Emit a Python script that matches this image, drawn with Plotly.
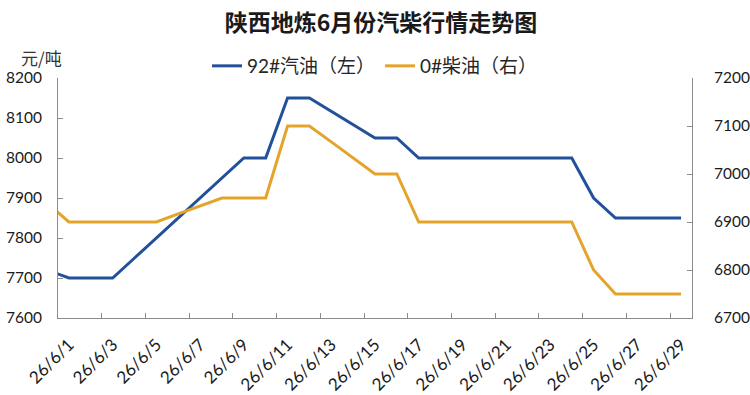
import plotly.graph_objects as go

# Dates (first point is the day before the visible range; it is clipped by the axis)
dates = ["2026-05-31"] + [f"2026-06-{d:02d}" for d in range(1, 30)]

gasoline_92 = [7720, 7700, 7700, 7700, 7750, 7800, 7850, 7900, 7950, 8000,
               8000, 8150, 8150, 8117, 8083, 8050, 8050, 8000, 8000, 8000,
               8000, 8000, 8000, 8000, 8000, 7900, 7850, 7850, 7850, 7850]
diesel_0 = [6940, 6900, 6900, 6900, 6900, 6900, 6917, 6933, 6950, 6950,
            6950, 7100, 7100, 7067, 7033, 7000, 7000, 6900, 6900, 6900,
            6900, 6900, 6900, 6900, 6900, 6800, 6750, 6750, 6750, 6750]

label_dates = [f"2026-06-{d:02d}" for d in range(1, 30, 2)]
label_text = [f"26/6/{d}" for d in range(1, 30, 2)]
tick_marks = [f"2026-06-{d:02d} 12:00" for d in range(2, 29, 2)]

name_gas = "92#汽油（左）"
name_diesel = "0#柴油（右）"
title_text = "陕西地炼6月份汽柴行情走势图"
unit_text = "元/吨"

BLUE = "#22509A"
ORANGE = "#E4A42C"
AXIS = "#8C8C8C"
FONT = "Lato, 'Noto Sans CJK SC', sans-serif"
CJK = "'Noto Sans CJK SC', sans-serif"

fig = go.Figure()
fig.add_trace(go.Scatter(x=dates, y=gasoline_92, name=name_gas, mode="lines",
                         line=dict(color=BLUE, width=3), yaxis="y"))
fig.add_trace(go.Scatter(x=dates, y=diesel_0, name=name_diesel, mode="lines",
                         line=dict(color=ORANGE, width=3), yaxis="y2"))

fig.update_layout(
    width=750, height=395,
    margin=dict(l=58, r=58, t=78, b=77, autoexpand=False),
    paper_bgcolor="white", plot_bgcolor="white",
    font=dict(family=FONT, size=16, color="#1a1a1a"),
    title=dict(text=f"<b>{title_text}</b>", x=0.508, xanchor="center",
               y=1 - 23 / 395, yanchor="middle",
               font=dict(family=CJK, size=23, color="#1a1a1a")),
    showlegend=True,
    legend=dict(orientation="h", xref="container", yref="container",
                x=0.5, xanchor="center", y=1 - 66 / 395, yanchor="middle",
                font=dict(family=FONT, size=19, color="#262626"),
                bgcolor="rgba(0,0,0,0)"),
    xaxis=dict(
        type="date",
        range=["2026-05-31 12:00", "2026-06-29 12:00"],
        tickmode="array", tickvals=label_dates, ticktext=label_text,
        ticks="", tickangle=-45,
        tickfont=dict(family=FONT, size=17, color="#1a1a1a"),
        ticklabelstandoff=9, ticklabelshift=0, ticklabeloverflow="allow",
        showline=True, linecolor=AXIS, linewidth=1,
        showgrid=False, zeroline=False,
        minor=dict(tickmode="array", tickvals=tick_marks, ticks="inside",
                   ticklen=5, tickcolor=AXIS, tickwidth=1, showgrid=False),
    ),
    yaxis=dict(
        range=[7600, 8200], dtick=100, tick0=7600,
        ticks="inside", ticklen=5, tickcolor=AXIS,
        showline=True, linecolor=AXIS, linewidth=1,
        showgrid=False, zeroline=False,
        tickfont=dict(family=FONT, size=15.5, color="#1a1a1a"),
        ticklabelstandoff=12, ticklabeloverflow="allow",
    ),
    yaxis2=dict(
        range=[6700, 7200], dtick=100, tick0=6700,
        overlaying="y", side="right",
        ticks="inside", ticklen=5, tickcolor=AXIS,
        showline=True, linecolor=AXIS, linewidth=1,
        showgrid=False, zeroline=False,
        tickfont=dict(family=FONT, size=15.5, color="#1a1a1a"),
        ticklabelstandoff=18, ticklabeloverflow="allow",
    ),
    annotations=[dict(text=unit_text, xref="paper", yref="paper",
                      x=-58 / 634 + 41 / 634, y=1 + 21 / 240,
                      xanchor="center", yanchor="middle", showarrow=False,
                      font=dict(family=CJK, size=17, color="#333333"))],
)

fig.write_html("out.html")
